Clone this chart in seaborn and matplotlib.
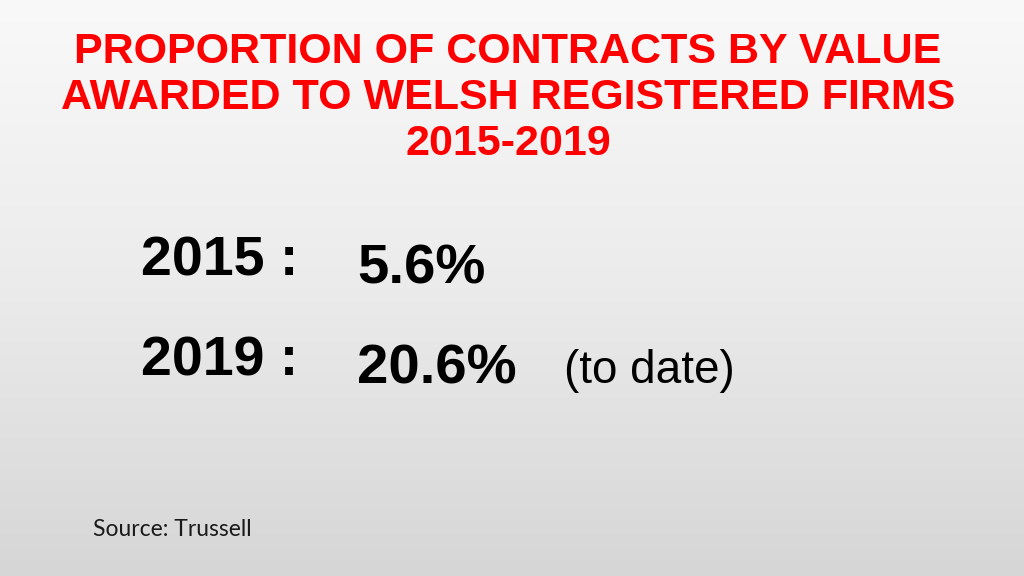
import numpy as np
import matplotlib
matplotlib.use("Agg")
import matplotlib.pyplot as plt
import seaborn as sns

sns.set_theme(style="white")
plt.rcParams['font.family'] = ['Liberation Sans', 'DejaVu Sans']

# slide content
title_lines = ["PROPORTION OF CONTRACTS BY VALUE",
               "AWARDED TO WELSH REGISTERED FIRMS",
               "2015-2019"]
years = ["2015", "2019"]
shares = [5.6, 20.6]
notes = ["", "(to date)"]
source = "Source: Trussell"

W, H = 1024, 576
fig = plt.figure(figsize=(W / 100, H / 100), dpi=100)
ax = fig.add_axes([0, 0, 1, 1])
ax.set_xlim(0, W)
ax.set_ylim(H, 0)
ax.axis('off')

# background: light vertical gradient
grad = np.linspace(0, 1, 256).reshape(-1, 1)
bg = matplotlib.colors.LinearSegmentedColormap.from_list("bg", ["#f9f9f9", "#ebebeb", "#d6d6d6"])
ax.imshow(grad, cmap=bg, extent=[0, W, H, 0], aspect='auto', zorder=0)

# title
for i, line in enumerate(title_lines):
    ax.text(508, 63 + 46 * i, line, ha='center', va='baseline', color='#ff0000',
            fontsize=31, fontweight='bold', zorder=2)

# figures per year
for i, (yr, val, note) in enumerate(zip(years, shares, notes)):
    y0 = 275 + 100 * i
    ax.text(141, y0, f"{yr} :", ha='left', va='baseline', color='black',
            fontsize=40, fontweight='bold', zorder=2)
    ax.text(357, y0 + 9, f"{val:.1f}%", ha='left', va='baseline', color='black',
            fontsize=40.5, fontweight='bold', zorder=2)
    if note:
        ax.text(564, y0 + 8, note, ha='left', va='baseline', color='black',
                fontsize=33, zorder=2)

ax.text(93, 536, source, ha='left', va='baseline', color='#1a1a1a',
        fontsize=16.5, family=['Lato', 'DejaVu Sans'], zorder=2)

fig.savefig("out.png", dpi=100)
